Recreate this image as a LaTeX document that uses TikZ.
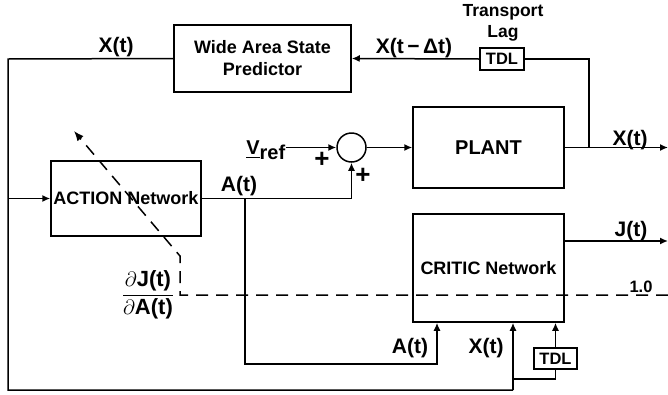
\documentclass[tikz,border=0pt]{standalone}
\usepackage{amsmath}
\usepackage{fontspec}
\setmainfont{Liberation Sans}
\usetikzlibrary{arrows.meta, positioning}

\begin{document}
\begin{tikzpicture}[
x=1pt, y=-1pt,
line width=1.5pt,
box/.style={draw, rectangle, align=center, inner sep=0pt, font=\fontsize{18}{22}\selectfont\bfseries},
tdl/.style={draw, rectangle, inner sep=0pt, font=\fontsize{16.5}{18}\selectfont\bfseries},
lbl/.style={inner sep=0pt, font=\fontsize{21}{23}\selectfont\bfseries},
sumnode/.style={draw, circle, minimum size=29pt, inner sep=0pt},
arrow/.style={-{Latex[length=8pt,width=7pt]}},
dasharrow/.style={-{Latex[length=10pt,width=8pt]}, dash pattern=on 12pt off 8pt}
]
\useasboundingbox (0,0) rectangle (668,394);

% blocks
\node[box, minimum width=177pt, minimum height=67pt] (wasp) at (262.5,58.5)
{Wide Area State\\ Predictor};
\node[box, minimum width=151pt, minimum height=81pt, font=\fontsize{20}{22}\selectfont\bfseries] (plant) at (488.5,147.5)
{PLANT};
\node[box, minimum width=150pt, minimum height=75pt] (action) at (126,198.5)
{ACTION Network};
\node[box, minimum width=151pt, minimum height=108pt] (critic) at (488.5,268)
{CRITIC Network};
\node[sumnode] (sum) at (351.5,147.5) {};
\node[tdl, minimum width=44pt, minimum height=22pt] (tdltop) at (502,59) {TDL};
\node[tdl, minimum width=43pt, minimum height=21pt] (tdlbot) at (555.5,358.5) {TDL};

% labels
\node[lbl] (xtop) at (116,47) {X(t)};
\node[lbl] (xdelay) at (414,48) {X(t\,−\,Δt)};
\node[lbl, align=center, font=\fontsize{17.5}{21}\selectfont\bfseries] (lag) at (503,23) {Transport\\ Lag};
\node[lbl] (xout) at (630,140) {X(t)};
\node[lbl, anchor=east, font=\fontsize{20}{22}\selectfont\bfseries] (vref) at (286,150) {\underline{V}\raisebox{-5pt}{ref}};
\node[lbl, font=\fontsize{26}{28}\selectfont\bfseries] (plus1) at (322,160) {+};
\node[lbl, font=\fontsize{26}{28}\selectfont\bfseries] (plus2) at (363,176) {+};
\node[lbl] (aout) at (239,186) {A(t)};
\node[lbl] (jout) at (631,231) {J(t)};
\node[lbl, font=\fontsize{16.5}{18}\selectfont\bfseries] (one) at (641,287) {1.0};
\node[lbl, font=\fontsize{22}{24}\selectfont] (grad) at (148,295)
{$\displaystyle\frac{\partial\textbf{J(t)}}{\partial\textbf{A(t)}}$};
\node[lbl] (ain) at (410,348) {A(t)};
\node[lbl] (xin) at (486,348) {X(t)};

% free ends and corners
\coordinate (lt) at (8,59);
\coordinate (lb) at (8,390);
\coordinate (xb) at (513,390);
\coordinate (ab) at (245,364);
\coordinate (ci) at (437,364);
\coordinate (tap) at (589,147.5);
\coordinate (xend) at (668,147.5);
\coordinate (jend) at (668,241);
\coordinate (tj) at (513,379);
\coordinate (dr) at (668,295);
\coordinate (dc) at (180,295);
\coordinate (dk) at (180,256);
\coordinate (dtip) at (74,131);

% connectors
\draw (wasp.west) -- (lt) -- (lb) -- (xb);
\draw[arrow] (xb) -- (xb |- critic.south);
\draw[arrow] (lt |- action.west) -- (action.west);
\draw[arrow] (action.east) -- (sum.south |- action.east) -- (sum.south);
\draw[arrow] (ab |- action.east) -- (ab) -- (ci) -- (ci |- critic.south);
\draw[arrow] (vref.east |- sum.west) -- (sum.west);
\draw[arrow] (sum.east) -- (plant.west);
\draw[arrow] (plant.east) -- (xend);
\draw (tap) -- (tap |- tdltop.east) -- (tdltop.east);
\draw[arrow] (tdltop.west) -- (wasp.east);
\draw[arrow] (critic.east |- jend) -- (jend);
\draw (tj) -- (tj -| tdlbot) -- (tdlbot.south);
\draw[arrow] (tdlbot.north) -- (tdlbot.north |- critic.south);
\draw[dasharrow] (dr) -- (dc) -- (dk) -- (dtip);

\end{tikzpicture}
\end{document}
